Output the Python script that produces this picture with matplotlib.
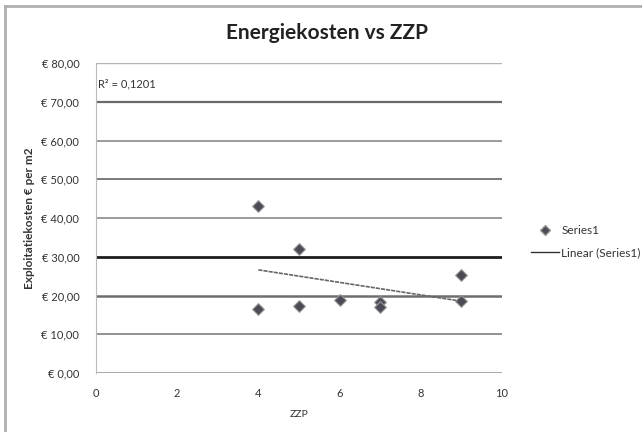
import numpy as np
import matplotlib
matplotlib.use("Agg")
import matplotlib.pyplot as plt
from matplotlib.lines import Line2D

plt.rcParams['font.family'] = ['Lato', 'DejaVu Sans']

# Data
zzp = [4, 4, 5, 5, 6, 7, 7, 9, 9]
kosten = [43.1, 16.5, 32.0, 17.4, 18.9, 18.4, 17.1, 25.2, 18.6]
yticks = [0, 10, 20, 30, 40, 50, 60, 70, 80]
xticks = [0, 2, 4, 6, 8, 10]
r2_label = "R² = 0,1201"
title = "Energiekosten vs ZZP"
series_name = "Series1"
trend_name = "Linear (Series1)"

fig = plt.figure(figsize=(6.42, 4.32), dpi=100)
ax = fig.add_axes([96/642, 1-373/432, (502-96)/642, (373-63)/432])

# gridlines (styled like reference)
grid_styles = {0: ('#9a9a9a', 1.2), 10: ('#8a8a8a', 1.3), 20: ('#6e6e6e', 1.8),
               30: ('#1e1e1e', 2.0), 40: ('#8a8a8a', 1.2), 50: ('#7a7a7a', 1.4),
               60: ('#8a8a8a', 1.2), 70: ('#6a6a6a', 1.6), 80: ('#b5b5b5', 1.0)}
for v in yticks:
    c, lw = grid_styles[v]
    ax.axhline(v, color=c, lw=lw, zorder=1)

ax.scatter(zzp, kosten, marker='D', s=36, facecolor='#4b4b55', edgecolor='#999999',
           linewidths=0.8, zorder=3, label=series_name)

# linear trendline
coef = np.polyfit(zzp, kosten, 1)
xs = np.array([min(zzp), max(zzp)])
ax.plot(xs, np.polyval(coef, xs), color='#666666', lw=1.2, ls=(0, (2.5, 0.6)), zorder=2,
        label=trend_name)

ax.set_xlim(0, 10)
ax.set_ylim(0, 80)
ax.set_xticks(xticks)
ax.set_yticks(yticks)
ax.set_yticklabels(["€ %d,00" % v for v in yticks])
ax.tick_params(axis='both', length=0, labelsize=8, colors='#333333')
ax.tick_params(axis='y', pad=12)
ax.tick_params(axis='x', pad=11)
for s in ['top', 'right', 'bottom']:
    ax.spines[s].set_visible(False)
ax.spines['left'].set_color('#bbbbbb')
ax.spines['left'].set_linewidth(0.8)

ax.set_xlabel("ZZP", fontsize=7.5, color='#333333', labelpad=8)
ax.set_ylabel("Exploitatiekosten € per m2", fontsize=8.5, fontweight='bold',
              color='#333333', labelpad=5)

ax.text(0.06, 74.5, r2_label, fontsize=8, color='#333333', va='center', ha='left')

fig.text(327/642, 1-33/432, title, fontsize=15, fontweight='bold', ha='center',
         va='center', color='#222222')

handles = [Line2D([], [], marker='D', ls='none', markersize=5.5, markerfacecolor='#4b4b55',
                  markeredgecolor='#999999'),
           Line2D([], [], color='#333333', lw=1.0)]
fig.legend(handles, [series_name, trend_name], loc='center left',
           bbox_to_anchor=(520/642, 1-242/432), frameon=False, fontsize=8.5,
           handlelength=2.4, handletextpad=0.2, labelspacing=0.95, labelcolor='#333333')

# chart border (top and left)
fig.add_artist(Line2D([5/642, 1], [1-6/432, 1-6/432], color='#b0b0b0', lw=2,
                      transform=fig.transFigure))
fig.add_artist(Line2D([5/642, 5/642], [0, 1-6/432], color='#b0b0b0', lw=2,
                      transform=fig.transFigure))

fig.savefig("out.png", dpi=100, facecolor='white')
